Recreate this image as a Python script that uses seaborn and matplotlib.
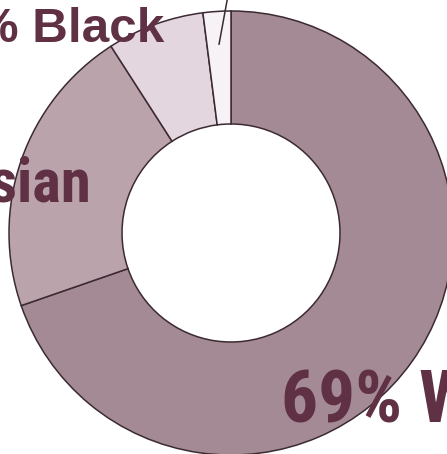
import os
import matplotlib
matplotlib.use("Agg")
import matplotlib.pyplot as plt
from matplotlib import font_manager
from matplotlib.font_manager import FontProperties
import numpy as np
import seaborn as sns

# Population share by group (rounded percentages)
groups = ["White", "Asian", "Black", "Other"]
shares = [69, 21, 7, 2]
labels = ["69% White", "21% Asian", "7% Black", ""]
slice_colors = ["#a38a94", "#bba3ab", "#e4d6df", "#f6f2f5"]

sns.set_theme(style="white")
plt.rcParams["font.family"] = ["Liberation Sans", "DejaVu Sans"]


def find_font_file(names):
    """Return the first installed font file whose base name matches one of names."""
    files = {os.path.splitext(os.path.basename(f.fname))[0].lower(): f.fname
             for f in font_manager.fontManager.ttflist}
    for n in names:
        if n.lower() in files:
            return files[n.lower()]
    return None


cond_file = find_font_file([
    "NotoSans-ExtraCondensedBold",
    "NotoSans-CondensedBold",
    "LiberationSansNarrow-Bold",
    "Roboto-CondensedBold",
    "RobotoCondensed-Bold",
    "DejaVuSansCondensed-Bold",
])
if cond_file:
    cond_fp = FontProperties(fname=cond_file)
else:
    cond_fp = FontProperties(family=["Liberation Sans", "DejaVu Sans"], weight="bold")
bold_fp = FontProperties(family=["Liberation Sans", "DejaVu Sans"], weight="bold")

W, H = 447, 454
fig = plt.figure(figsize=(W / 100, H / 100), dpi=100)
ax = fig.add_axes([0, 0, 1, 1])

cx, cy, r_out, ring = 231, H - 233, 222, 113
edge = "#3c2a33"
wedges, _ = ax.pie(
    shares,
    colors=slice_colors,
    startangle=90,
    counterclock=False,
    center=(cx, cy),
    radius=r_out,
    frame=True,
    wedgeprops=dict(width=ring, edgecolor=edge, linewidth=1.1),
)

ax.set_xlim(0, W)
ax.set_ylim(0, H)
ax.set_aspect("equal")
ax.axis("off")

fig.canvas.draw()
renderer = fig.canvas.get_renderer()


def fitted(fp, sample, width_px):
    """Copy of fp sized so that `sample` spans width_px pixels."""
    probe_fp = fp.copy()
    probe_fp.set_size(100)
    t = ax.text(0, 0, sample, fontproperties=probe_fp)
    w = t.get_window_extent(renderer).width
    t.remove()
    out = fp.copy()
    out.set_size(100 * width_px / w)
    return out


text_color = "#603045"

# Leader line for the smallest slice, running up out of the ring
w = wedges[3]
mid = np.deg2rad((w.theta1 + w.theta2) / 2)
r0 = r_out - 33
x0, y0 = cx + r0 * np.cos(mid), cy + r0 * np.sin(mid)
ax.plot([x0, cx - 2], [y0, H + 10], color=edge, lw=1.1, clip_on=False)

# Slice labels
ax.text(164, H - 42, labels[2], ha="right", va="baseline",
        fontproperties=fitted(bold_fp, "Black", 132), color=text_color)
ax.text(91, H - 201, labels[1], ha="right", va="baseline",
        fontproperties=fitted(cond_fp, "ian", 74), color=text_color)
ax.text(281, H - 422, labels[0], ha="left", va="baseline",
        fontproperties=fitted(cond_fp, "69%", 121), color=text_color)

fig.savefig("out.png", dpi=100, facecolor="white")
